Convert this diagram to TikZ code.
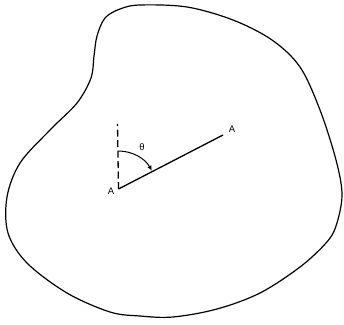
\documentclass[tikz,border=0pt]{standalone}
\usepackage{fontspec}
\setmainfont{Liberation Sans}
\usetikzlibrary{arrows.meta,calc}
\begin{document}
\begin{tikzpicture}[x=1pt,y=-1pt,
  outline/.style={line width=1.2pt,line join=round},
  ray/.style={line width=1.3pt},
  vert/.style={line width=1.3pt,dash pattern=on 7pt off 3.5pt},
  lbl/.style={font=\fontsize{9.5}{11}\selectfont,inner sep=0pt},
  anglearc/.style={line width=1pt,-{Latex[length=5pt,width=4.5pt]}}]
\useasboundingbox (0,0) rectangle (344,324);
\draw[outline] plot[smooth cycle,tension=0.55] coordinates {
 (97,36) (105,18) (120,9) (140,5) (187,7) (233,20) (272,40) (300,67)
 (320,110) (336,160) (342,195) (336,226) (326,243) (300,267) (260,293)
 (217,309) (173,317) (140,316) (110,312) (67,293) (27,263) (8,233)
 (7,197) (20,163) (50,130) (77,103) (91,78) (94,56)};
\coordinate (O) at (118.5,189);
\coordinate (E) at (223,135);
\coordinate (T) at (117.5,124);
\draw[ray] (O) -- (E);
\draw[vert] (O) -- (T);
\node[lbl] (A1) at (111,191) {A};
\node[lbl] (A2) at (232,129.5) {A};
\draw[anglearc] ($(O)+(0,-38)$) arc[start angle=-90,end angle=-28.8,radius=38];
\node[lbl] (th) at (142,147) {θ};
\end{tikzpicture}
\end{document}
